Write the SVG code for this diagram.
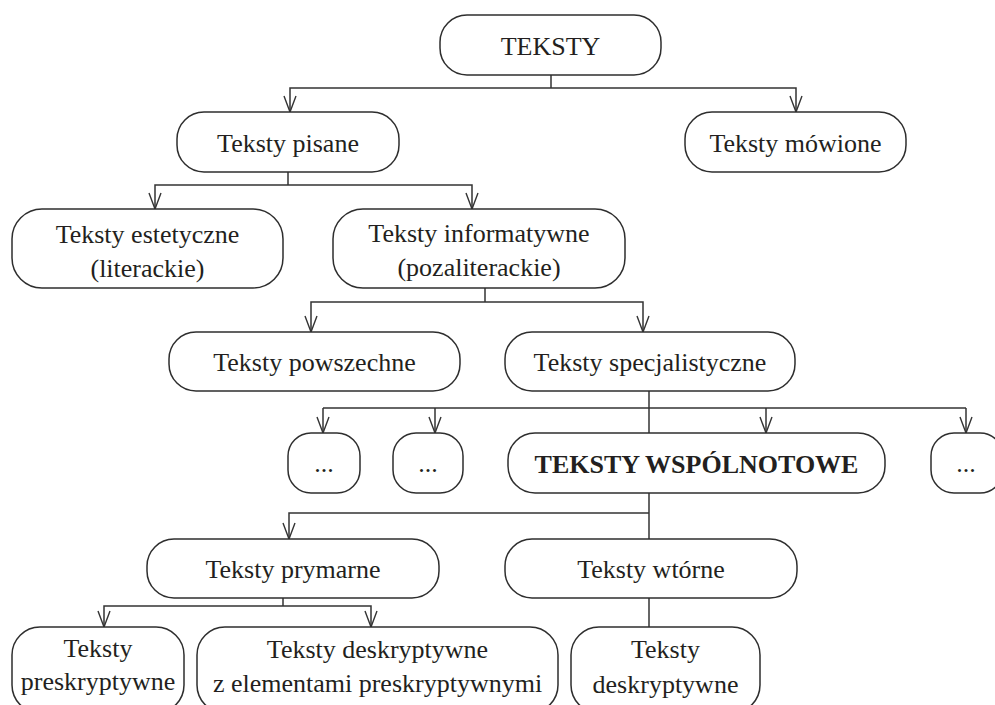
<svg xmlns="http://www.w3.org/2000/svg" width="995" height="705" viewBox="0 0 995 705">
  <style>
    .box { fill: #ffffff; stroke: #2e2e2e; stroke-width: 1.5; }
    .lbl { font-family: "Liberation Serif", "Times New Roman", serif; font-size: 26px; fill: #231f20; text-anchor: middle; }
    .bold { font-weight: bold; }
    .wire { fill: none; stroke: #333333; stroke-width: 1.5; }
    .arr { marker-end: url(#open-arrow); }
  </style>
  <defs>
    <marker id="open-arrow" viewBox="-1 -1 18 14" refX="16" refY="6" markerWidth="18" markerHeight="14" markerUnits="userSpaceOnUse" orient="auto">
      <path d="M0,0 L16,6 L0,12" fill="none" stroke="#333333" stroke-width="1.4"/>
    </marker>
  </defs>
  <rect width="995" height="705" fill="#ffffff"/>

  <g id="connectors">
    <path class="wire" d="M551,75 V88"/>
    <path class="wire arr" d="M551,88 H290 V112"/>
    <path class="wire arr" d="M551,88 H796 V112"/>

    <path class="wire" d="M288,172 V185"/>
    <path class="wire arr" d="M288,185 H155 V209"/>
    <path class="wire arr" d="M288,185 H472 V209"/>

    <path class="wire" d="M485,288 V302"/>
    <path class="wire arr" d="M485,302 H311 V332"/>
    <path class="wire arr" d="M485,302 H643 V332"/>

    <path class="wire" d="M649,391 V433"/>
    <path class="wire" d="M323,408 H966"/>
    <path class="wire arr" d="M323,408 V433"/>
    <path class="wire arr" d="M435,408 V433"/>
    <path class="wire arr" d="M766,408 V433"/>
    <path class="wire arr" d="M966,408 V433"/>

    <path class="wire" d="M649,493 V539"/>
    <path class="wire arr" d="M649,513 H289 V539"/>

    <path class="wire" d="M283,598 V606"/>
    <path class="wire arr" d="M283,606 H104 V627"/>
    <path class="wire arr" d="M283,606 H371 V627"/>

    <path class="wire" d="M649,598 V627"/>
  </g>

  <g id="teksty">
    <rect class="box" x="440" y="15" width="221" height="60" rx="27"/>
    <text class="lbl" x="550.5" y="55">TEKSTY</text>
  </g>
  <g id="teksty-pisane">
    <rect class="box" x="177" y="112" width="222" height="60" rx="27"/>
    <text class="lbl" x="288" y="152">Teksty pisane</text>
  </g>
  <g id="teksty-mowione">
    <rect class="box" x="685" y="112" width="221" height="60" rx="27"/>
    <text class="lbl" x="795.5" y="152">Teksty mówione</text>
  </g>
  <g id="teksty-estetyczne">
    <rect class="box" x="12" y="209" width="271" height="79" rx="30"/>
    <text class="lbl" x="147.5" y="243">Teksty estetyczne</text>
    <text class="lbl" x="147.5" y="277">(literackie)</text>
  </g>
  <g id="teksty-informatywne">
    <rect class="box" x="333" y="209" width="292" height="79" rx="30"/>
    <text class="lbl" x="479" y="242">Teksty informatywne</text>
    <text class="lbl" x="479" y="276">(pozaliterackie)</text>
  </g>
  <g id="teksty-powszechne">
    <rect class="box" x="169" y="332" width="291" height="59" rx="27"/>
    <text class="lbl" x="314.5" y="371">Teksty powszechne</text>
  </g>
  <g id="teksty-specjalistyczne">
    <rect class="box" x="505" y="332" width="290" height="59" rx="27"/>
    <text class="lbl" x="650" y="371">Teksty specjalistyczne</text>
  </g>
  <g id="inne-1">
    <rect class="box" x="288" y="433" width="72" height="60" rx="23"/>
    <text class="lbl" x="324" y="472">...</text>
  </g>
  <g id="inne-2">
    <rect class="box" x="393" y="433" width="70" height="60" rx="23"/>
    <text class="lbl" x="428" y="472">...</text>
  </g>
  <g id="teksty-wspolnotowe">
    <rect class="box" x="508" y="433" width="377" height="60" rx="27"/>
    <text class="lbl bold" x="696.5" y="473">TEKSTY WSPÓLNOTOWE</text>
  </g>
  <g id="inne-3">
    <rect class="box" x="931" y="433" width="72" height="60" rx="23"/>
    <text class="lbl" x="966" y="472">...</text>
  </g>
  <g id="teksty-prymarne">
    <rect class="box" x="147" y="539" width="292" height="59" rx="27"/>
    <text class="lbl" x="293" y="578">Teksty prymarne</text>
  </g>
  <g id="teksty-wtorne">
    <rect class="box" x="505" y="539" width="292" height="59" rx="27"/>
    <text class="lbl" x="651" y="578">Teksty wtórne</text>
  </g>
  <g id="teksty-preskryptywne">
    <rect class="box" x="12" y="627" width="172" height="86" rx="28"/>
    <text class="lbl" x="98" y="657">Teksty</text>
    <text class="lbl" x="98" y="690">preskryptywne</text>
  </g>
  <g id="teksty-deskryptywne-mieszane">
    <rect class="box" x="197" y="627" width="361" height="86" rx="28"/>
    <text class="lbl" x="377.5" y="658">Teksty deskryptywne</text>
    <text class="lbl" x="377.5" y="692">z elementami preskryptywnymi</text>
  </g>
  <g id="teksty-deskryptywne">
    <rect class="box" x="571" y="627" width="189" height="86" rx="28"/>
    <text class="lbl" x="665.5" y="658">Teksty</text>
    <text class="lbl" x="665.5" y="693">deskryptywne</text>
  </g>
</svg>
